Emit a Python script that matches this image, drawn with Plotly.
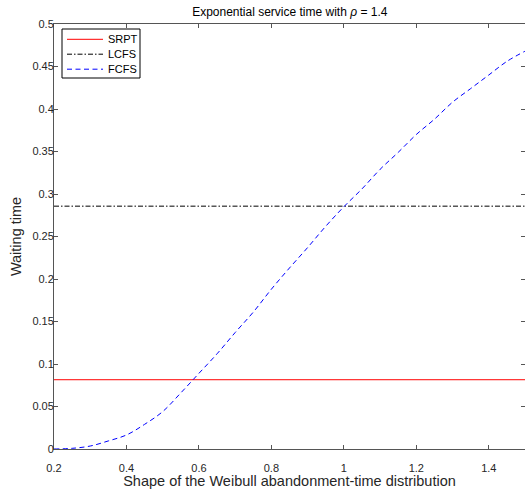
import plotly.graph_objects as go

shape = [0.20, 0.25, 0.30, 0.35, 0.40, 0.45, 0.50, 0.55, 0.60, 0.65, 0.70, 0.75, 0.80, 0.85,
         0.90, 0.95, 1.00, 1.05, 1.10, 1.15, 1.20, 1.25, 1.30, 1.35, 1.40, 1.45, 1.50]
fcfs = [0.0, 0.0008, 0.0035, 0.0095, 0.0165, 0.029, 0.044, 0.066, 0.089, 0.112, 0.137, 0.161,
        0.188, 0.213, 0.237, 0.262, 0.285, 0.306, 0.329, 0.349, 0.370, 0.388, 0.408, 0.424,
        0.440, 0.456, 0.468]
srpt_value = 0.0815
lcfs_value = 0.2857
srpt = [srpt_value] * len(shape)
lcfs = [lcfs_value] * len(shape)

series_names = ["SRPT", "LCFS", "FCFS"]

xticks = [0.2, 0.4, 0.6, 0.8, 1.0, 1.2, 1.4]
xtick_text = ["0.2", "0.4", "0.6", "0.8", "1", "1.2", "1.4"]
yticks = [0, 0.05, 0.1, 0.15, 0.2, 0.25, 0.3, 0.35, 0.4, 0.45, 0.5]
ytick_text = ["0", "0.05", "0.1", "0.15", "0.2", "0.25", "0.3", "0.35", "0.4", "0.45", "0.5"]

FONT = "Liberation Sans, Arial, Helvetica, sans-serif"
AX = "#555555"
W, H = 525, 489
ML, MR, MT, MB = 54, 0, 24, 40
PW, PH = W - ML - MR, H - MT - MB

styles = [dict(color="#ff0000", width=1),
          dict(color="#000000", width=1, dash="5px,2px,1.5px,2px"),
          dict(color="#0000ff", width=1, dash="5px,3.5px")]

fig = go.Figure()
fig.add_trace(go.Scatter(x=shape, y=srpt, mode="lines", name=series_names[0], line=styles[0]))
fig.add_trace(go.Scatter(x=shape, y=lcfs, mode="lines", name=series_names[1], line=styles[1]))
fig.add_trace(go.Scatter(x=shape, y=fcfs, mode="lines", name=series_names[2],
                         line=dict(styles[2], shape="spline")))


def px_x(p):
    return (p - ML) / PW


def px_y(p):
    return (H - MB - p) / PH


# manual legend box (MATLAB-style compact legend)
shapes = [dict(type="rect", xref="paper", yref="paper",
               x0=px_x(62), x1=px_x(140), y0=px_y(78), y1=px_y(29),
               line=dict(color="#000000", width=1), fillcolor="white", layer="above")]
annotations = []
rows = [39.3, 54.2, 69.2]
for name, st, ry in zip(series_names, styles, rows):
    shapes.append(dict(type="line", xref="paper", yref="paper",
                       x0=px_x(67), x1=px_x(103), y0=px_y(ry), y1=px_y(ry),
                       line=st, layer="above"))
    annotations.append(dict(text=name, xref="paper", yref="paper", x=px_x(105.5), y=px_y(ry),
                            xanchor="left", yanchor="middle", showarrow=False,
                            font=dict(size=11, color="#000000", family=FONT)))

fig.update_layout(
    width=W, height=H,
    margin=dict(l=ML, r=MR, t=MT, b=MB),
    plot_bgcolor="white", paper_bgcolor="white",
    font=dict(family=FONT, size=11, color="#262626"),
    title=dict(text="Exponential service time with <i>ρ</i> = 1.4", x=0.552, xanchor="center",
               y=0.975, yanchor="middle", font=dict(size=12, color="#000000")),
    showlegend=False,
    shapes=shapes,
    annotations=annotations,
    xaxis=dict(range=[0.2, 1.5], tickvals=xticks, ticktext=xtick_text,
               ticks="inside", ticklen=4, tickcolor=AX, showline=True, linecolor=AX,
               linewidth=1, mirror="ticks", showgrid=False, zeroline=False,
               automargin=False, ticklabelstandoff=9,
               title=dict(text="Shape of the Weibull abandonment-time distribution",
                          font=dict(size=14.5), standoff=4)),
    yaxis=dict(range=[0, 0.5], tickvals=yticks, ticktext=ytick_text,
               ticks="inside", ticklen=4, tickcolor=AX, showline=True, linecolor=AX,
               linewidth=1, mirror="ticks", showgrid=False, zeroline=False,
               automargin=False, ticklabelstandoff=-3,
               title=dict(text="Waiting time", font=dict(size=14.5), standoff=7)),
)

fig.write_html("out.html", config={"displayModeBar": False},
               post_script="document.body.style.margin='0px';document.body.style.overflow='hidden';")
